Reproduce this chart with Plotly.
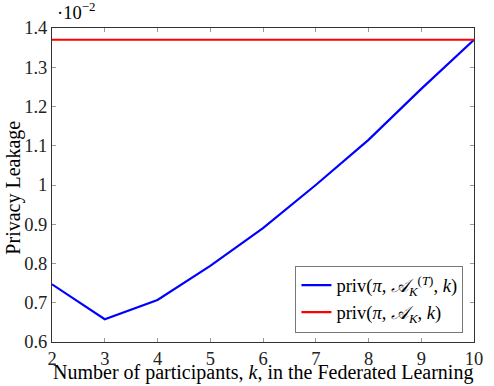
import plotly.graph_objects as go

# data (values in units of 1e-2)
participants = [2, 3, 4, 5, 6, 7, 8, 9, 10]
priv_t = [0.747, 0.658, 0.707, 0.794, 0.890, 1.000, 1.115, 1.245, 1.370]
priv_full = [1.370] * len(participants)

x_ticks = [2, 3, 4, 5, 6, 7, 8, 9, 10]
y_ticks = [0.6, 0.7, 0.8, 0.9, 1.0, 1.1, 1.2, 1.3, 1.4]
y_tick_text = ["0.6", "0.7", "0.8", "0.9", "1", "1.1", "1.2", "1.3", "1.4"]

serif = "Liberation Serif, DejaVu Serif, serif"
tick_size = 18.5
title_size = 20
legend_size = 18.5

fig = go.Figure()
fig.add_trace(go.Scatter(
    x=participants, y=priv_t, mode="lines",
    line=dict(color="#0000ff", width=2.2),
    name="priv(<i>π</i>, <i>𝒜</i><sub><i>K</i></sub><sup>(<i>T</i>)</sup>, <i>k</i>)",
))
fig.add_trace(go.Scatter(
    x=participants, y=priv_full, mode="lines",
    line=dict(color="#ff0000", width=2.2),
    name="priv(<i>π</i>, <i>𝒜</i><sub><i>K</i></sub>, <i>k</i>)",
))

axis_common = dict(
    showgrid=False, zeroline=False, showline=True, linecolor="#333333", linewidth=1,
    mirror="ticks", ticks="inside", ticklen=4, tickcolor="#999999",
    tickfont=dict(family=serif, size=tick_size, color="#222222"),
)

fig.update_xaxes(range=[2, 10], tickvals=x_ticks, ticklabelstandoff=0, **axis_common)
fig.update_yaxes(range=[0.6, 1.4], tickvals=y_ticks, ticktext=y_tick_text,
                 ticklabelstandoff=0, **axis_common)

# axis titles and the scale factor as annotations, so they sit where the reference has them
fig.add_annotation(
    x=0.5, y=0, xref="paper", yref="paper", xanchor="center", yanchor="bottom",
    yshift=-44, showarrow=False,
    text="Number of participants, <i>k</i>, in the Federated Learning",
    font=dict(family=serif, size=title_size, color="black"),
)
fig.add_annotation(
    x=0, y=0.49, xref="paper", yref="paper", xanchor="left", yanchor="middle",
    xshift=-52, showarrow=False, textangle=-90,
    text="Privacy Leakage",
    font=dict(family=serif, size=title_size, color="black"),
)
fig.add_annotation(
    x=0, y=1, xref="paper", yref="paper", xanchor="left", yanchor="bottom",
    xshift=3, yshift=3, showarrow=False,
    text="·10<sup>−2</sup>", font=dict(family=serif, size=tick_size, color="black"),
)

fig.update_layout(
    width=494, height=386,
    margin=dict(l=52, r=11, t=28, b=44),
    plot_bgcolor="white", paper_bgcolor="white",
    font=dict(family=serif, color="black"),
    showlegend=True,
    legend=dict(
        x=0.975, y=0.03, xanchor="right", yanchor="bottom",
        bordercolor="#777777", borderwidth=1, bgcolor="white",
        font=dict(family=serif, size=legend_size, color="black"),
        itemwidth=30, tracegroupgap=0,
    ),
)

# the page's default body margin would shift the figure by 8px
fig.write_html("out.html", config={"displayModeBar": False},
               post_script="document.body.style.margin='0';")
